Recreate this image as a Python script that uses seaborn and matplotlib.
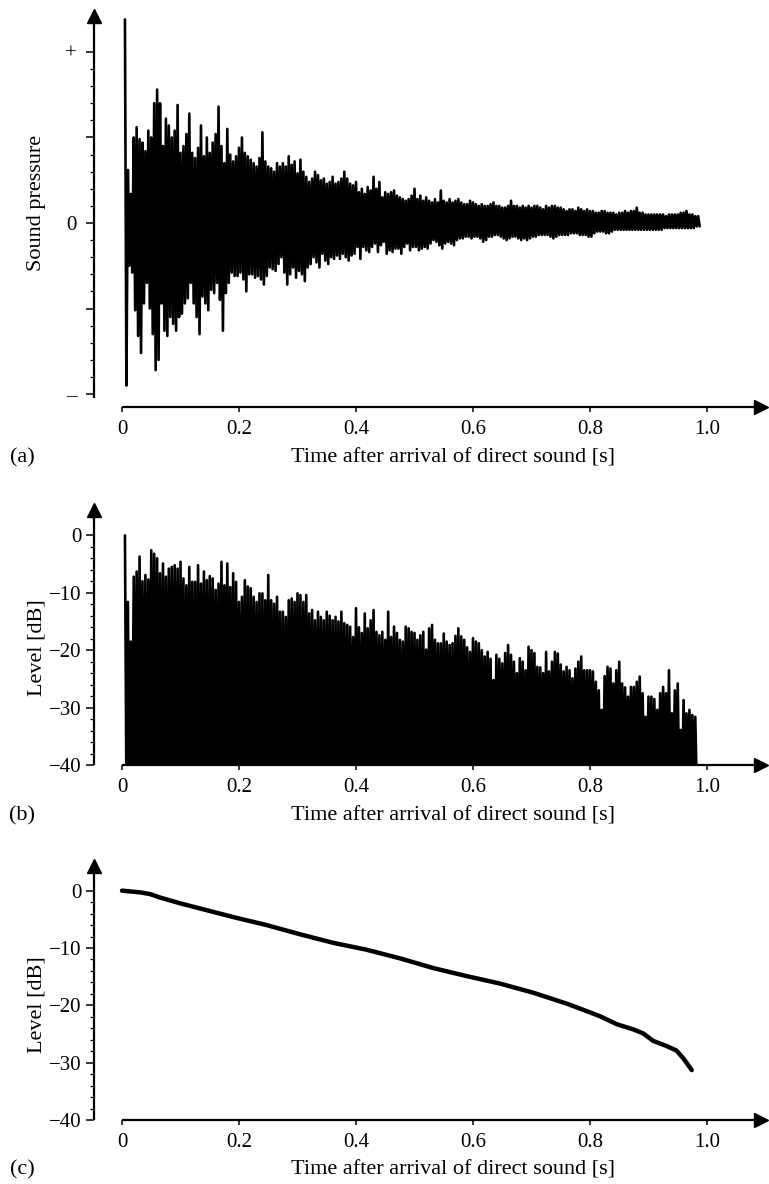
import numpy as np
import pandas as pd
import matplotlib
matplotlib.use("Agg")
import matplotlib.pyplot as plt
from matplotlib.transforms import Affine2D, ScaledTranslation
from matplotlib.ticker import FixedLocator
import seaborn as sns

sns.set_theme(style="ticks")
plt.rcParams["font.family"] = ["Liberation Serif", "DejaVu Serif"]
for key in ("text.color", "axes.labelcolor", "xtick.color", "ytick.color", "axes.edgecolor"):
    plt.rcParams[key] = "black"

# ---------------------------------------------------------------- data
# impulse response sampled every DT seconds starting at T0 (direct sound first)
T0 = 0.005
DT = 0.005

# (a) sound pressure: positive and negative peak per sample slot
pressure_upper = [
    1.19, 0.31, 0.17, 0.50, 0.56, 0.49, 0.47, 0.42, 0.54, 0.50,
    0.70, 0.78, 0.70, 0.45, 0.61, 0.57, 0.50, 0.54, 0.69, 0.41,
    0.45, 0.52, 0.64, 0.41, 0.38, 0.44, 0.57, 0.39, 0.50, 0.41,
    0.47, 0.52, 0.68, 0.45, 0.35, 0.55, 0.40, 0.36, 0.39, 0.44,
    0.50, 0.41, 0.39, 0.37, 0.35, 0.33, 0.38, 0.53, 0.36, 0.33,
    0.32, 0.30, 0.35, 0.33, 0.35, 0.33, 0.39, 0.34, 0.36, 0.29,
    0.37, 0.30, 0.27, 0.24, 0.26, 0.30, 0.28, 0.25, 0.26, 0.23,
    0.24, 0.27, 0.23, 0.24, 0.26, 0.30, 0.26, 0.23, 0.22, 0.24,
    0.18, 0.20, 0.17, 0.21, 0.19, 0.27, 0.20, 0.24, 0.15, 0.18,
    0.17, 0.18, 0.19, 0.16, 0.15, 0.14, 0.13, 0.14, 0.16, 0.20,
    0.14, 0.16, 0.13, 0.15, 0.13, 0.12, 0.14, 0.12, 0.19, 0.13,
    0.12, 0.14, 0.12, 0.13, 0.14, 0.12, 0.11, 0.11, 0.13, 0.12,
    0.11, 0.10, 0.11, 0.10, 0.10, 0.11, 0.12, 0.10, 0.10, 0.09,
    0.09, 0.10, 0.13, 0.10, 0.10, 0.09, 0.10, 0.09, 0.10, 0.09,
    0.10, 0.10, 0.09, 0.08, 0.10, 0.09, 0.10, 0.10, 0.09, 0.09,
    0.08, 0.07, 0.08, 0.08, 0.07, 0.09, 0.08, 0.07, 0.08, 0.07,
    0.07, 0.06, 0.06, 0.07, 0.07, 0.06, 0.06, 0.06, 0.05, 0.06,
    0.06, 0.07, 0.06, 0.07, 0.07, 0.09, 0.06, 0.06, 0.05, 0.05,
    0.05, 0.05, 0.05, 0.05, 0.05, 0.04, 0.05, 0.05, 0.05, 0.05,
    0.06, 0.06, 0.07, 0.05, 0.05, 0.04, 0.04,
]
pressure_lower = [
    -0.95, -0.25, -0.29, -0.51, -0.66, -0.76, -0.47, -0.35, -0.50, -0.65,
    -0.86, -0.80, -0.47, -0.63, -0.66, -0.55, -0.59, -0.63, -0.55, -0.53,
    -0.47, -0.44, -0.35, -0.47, -0.55, -0.65, -0.43, -0.47, -0.51, -0.39,
    -0.41, -0.35, -0.45, -0.63, -0.41, -0.35, -0.29, -0.31, -0.31, -0.29,
    -0.33, -0.40, -0.30, -0.30, -0.32, -0.31, -0.33, -0.36, -0.31, -0.26,
    -0.27, -0.28, -0.24, -0.20, -0.29, -0.36, -0.30, -0.26, -0.32, -0.28,
    -0.30, -0.34, -0.26, -0.24, -0.20, -0.23, -0.26, -0.18, -0.22, -0.24,
    -0.20, -0.21, -0.19, -0.21, -0.18, -0.20, -0.22, -0.19, -0.18, -0.14,
    -0.21, -0.14, -0.16, -0.17, -0.14, -0.12, -0.17, -0.13, -0.11, -0.18,
    -0.16, -0.17, -0.15, -0.15, -0.18, -0.14, -0.12, -0.16, -0.14, -0.14,
    -0.16, -0.15, -0.14, -0.15, -0.12, -0.10, -0.11, -0.13, -0.15, -0.12,
    -0.11, -0.12, -0.13, -0.10, -0.09, -0.09, -0.08, -0.08, -0.09, -0.08,
    -0.08, -0.09, -0.11, -0.10, -0.08, -0.08, -0.07, -0.07, -0.08, -0.09,
    -0.10, -0.09, -0.08, -0.08, -0.09, -0.10, -0.09, -0.10, -0.09, -0.08,
    -0.08, -0.07, -0.07, -0.07, -0.07, -0.08, -0.09, -0.08, -0.07, -0.07,
    -0.07, -0.07, -0.06, -0.06, -0.06, -0.07, -0.07, -0.07, -0.08, -0.08,
    -0.06, -0.05, -0.05, -0.05, -0.06, -0.06, -0.05, -0.04, -0.04, -0.04,
    -0.04, -0.04, -0.04, -0.04, -0.04, -0.04, -0.04, -0.04, -0.04, -0.04,
    -0.04, -0.04, -0.04, -0.04, -0.03, -0.03, -0.03, -0.03, -0.03, -0.03,
    -0.03, -0.03, -0.03, -0.03, -0.03, -0.02, -0.02,
]

# (b) level of each sample slot [dB]
level_peaks = [
    0.0, -11.6, -18.5, -7.2, -6.3, -3.7, -8.0, -6.9, -7.7, -2.6,
    -3.2, -4.0, -6.6, -4.9, -7.2, -5.8, -5.5, -5.2, -5.8, -4.6,
    -7.5, -8.7, -5.5, -8.1, -8.1, -5.2, -8.4, -6.3, -7.8, -7.1,
    -7.5, -9.5, -8.4, -4.6, -8.7, -4.9, -9.0, -6.6, -8.1, -11.6,
    -10.7, -7.8, -8.9, -9.2, -10.7, -11.6, -10.1, -10.1, -11.3, -6.9,
    -11.3, -11.9, -10.7, -13.3, -13.3, -14.2, -11.3, -11.0, -11.6, -10.1,
    -10.4, -11.6, -10.4, -13.6, -13.0, -14.8, -13.3, -14.2, -14.8, -13.3,
    -14.0, -14.8, -14.2, -15.0, -13.3, -15.3, -15.6, -15.9, -17.7, -12.7,
    -16.0, -17.0, -13.6, -16.2, -14.8, -13.0, -16.8, -17.4, -16.8, -18.2,
    -13.3, -17.7, -15.9, -17.0, -18.2, -18.5, -15.9, -16.2, -16.8, -17.0,
    -18.2, -17.4, -16.8, -19.9, -16.2, -15.6, -18.2, -18.8, -18.8, -17.1,
    -18.5, -19.1, -18.8, -17.5, -16.2, -17.6, -18.2, -19.5, -20.3, -17.9,
    -18.5, -18.8, -20.0, -21.1, -20.3, -21.5, -25.2, -20.8, -21.5, -22.3,
    -20.5, -19.1, -20.8, -22.0, -24.0, -21.4, -22.0, -23.5, -19.4, -20.0,
    -20.5, -22.9, -23.0, -24.0, -20.3, -23.7, -22.0, -20.3, -20.6, -22.5,
    -23.7, -22.9, -23.5, -24.9, -23.2, -22.0, -21.1, -23.5, -23.5, -23.5,
    -23.7, -25.5, -27.0, -30.4, -24.5, -22.9, -23.2, -25.8, -23.5, -22.0,
    -25.8, -26.5, -28.1, -26.4, -26.4, -25.5, -24.6, -27.5, -31.6, -28.1,
    -28.1, -28.5, -30.4, -27.5, -26.4, -27.5, -23.5, -31.0, -27.0, -25.8,
    -33.9, -28.7, -31.0, -30.4, -31.3, -31.6,
]
# the level trace dips below the lowest displayed level between samples
LEVEL_FLOOR = -44

# (c) backward-integrated decay curve
decay_time = [0.0, 0.031, 0.048, 0.065, 0.099, 0.133, 0.190, 0.247, 0.304,
              0.361, 0.418, 0.475, 0.532, 0.589, 0.646, 0.703, 0.760, 0.789,
              0.817, 0.846, 0.874, 0.891, 0.908, 0.931, 0.948, 0.960, 0.974]
decay_level = [0.0, -0.3, -0.6, -1.2, -2.2, -3.1, -4.6, -6.0, -7.6,
               -9.1, -10.3, -11.8, -13.5, -14.9, -16.2, -17.8, -19.7, -20.8,
               -21.9, -23.3, -24.2, -24.9, -26.2, -27.1, -27.9, -29.3, -31.3]

x_ticks = [0, 0.2, 0.4, 0.6, 0.8, 1.0]
x_tick_labels = ["0", "0.2", "0.4", "0.6", "0.8", "1.0"]
pressure_ticks = [-1, -0.5, 0, 0.5, 1]
pressure_tick_labels = ["\u2013", "", "0", "", "+"]
level_ticks = [-40, -30, -20, -10, 0]
level_tick_labels = ["\u221240", "\u221230", "\u221220", "\u221210", "0"]

x_title = "Time after arrival of direct sound [s]"

# ---------------------------------------------------------------- layout
W, H, DPI = 769, 1184, 100
FS = 15        # tick labels
FS_TITLE = 16  # axis titles and panel tags
AX_LEFT, AX_RIGHT = 94, 760.5
XMIN, XMAX = -0.0479, 1.0915
PT = 72 / DPI  # points per pixel

fig = plt.figure(figsize=(W / DPI, H / DPI), dpi=DPI)
fig.patch.set_facecolor("white")
PX = Affine2D().scale(1 / W, -1 / H).translate(0, 1) + fig.transFigure


def add_panel(top, bottom):
    return fig.add_axes([AX_LEFT / W, 1 - bottom / H,
                         (AX_RIGHT - AX_LEFT) / W, (bottom - top) / H])


def style_panel(ax, ylim, yticks, ylabels, yminor, ylabel, ylabel_y,
                label_y, tag, bottom_offset=0, ypad=3.5):
    ax.set_xlim(XMIN, XMAX)
    ax.set_ylim(*ylim)
    ax.set_facecolor("none")
    for side in ("top", "right"):
        ax.spines[side].set_visible(False)
    for side in ("left", "bottom"):
        ax.spines[side].set_linewidth(1.6)
        ax.spines[side].set_capstyle("butt")
    ax.spines["bottom"].set_bounds(0, XMAX)
    if bottom_offset:
        ax.spines["bottom"].set_position(("outward", bottom_offset * PT))

    ax.set_xticks(x_ticks, x_tick_labels)
    ax.set_yticks(yticks, ylabels)
    ax.yaxis.set_minor_locator(FixedLocator(yminor))
    ax.tick_params(axis="x", which="major", direction="out", length=5 * PT,
                   width=1.1, pad=6, labelsize=FS)
    ax.tick_params(axis="y", which="major", direction="out", length=8 * PT,
                   width=1.1, pad=ypad, labelsize=FS)
    ax.tick_params(axis="y", which="minor", direction="out", length=4.5 * PT,
                   width=0.9)

    # arrow heads at the ends of both axes
    ax.plot(0, 1, marker="^", ms=10, color="black", transform=ax.transAxes,
            clip_on=False, zorder=5)
    shift = ScaledTranslation(0, -bottom_offset / DPI, fig.dpi_scale_trans)
    ax.plot(1, 0, marker=">", ms=10, color="black",
            transform=ax.transAxes + shift, clip_on=False, zorder=5)

    ax.set_ylabel(ylabel, fontsize=FS_TITLE)
    ax.yaxis.label.set(ha="center", va="center")
    ax.yaxis.set_label_coords(37, ylabel_y, transform=PX)
    ax.set_xlabel(x_title, fontsize=FS_TITLE)
    ax.xaxis.label.set(ha="center", va="center")
    ax.xaxis.set_label_coords(453, label_y, transform=PX)
    fig.text(22, label_y, tag, transform=PX, ha="center", va="center",
             fontsize=FS_TITLE)


def zigzag(times, first, second):
    t = np.asarray(times, dtype=float)
    xs = np.column_stack([t, t + DT / 2]).ravel()
    ys = np.column_stack([np.asarray(first, float),
                          np.asarray(second, float)]).ravel()
    return xs, ys


WAVE_LW = 1.9

# ---------------------------------------------------------------- (a)
ax_a = add_panel(15.5, 398)
t_a = T0 + DT * np.arange(len(pressure_upper))
xa, ya = zigzag(t_a, pressure_upper, pressure_lower)
df_a = pd.DataFrame({"time": xa, "pressure": ya})
sns.lineplot(data=df_a, x="time", y="pressure", sort=False, estimator=None,
             color="black", linewidth=WAVE_LW, ax=ax_a)
minor_a = [v / 10 for v in range(-10, 11) if v % 5 != 0]
style_panel(ax_a, (-1.023, 1.213), pressure_ticks, pressure_tick_labels,
            minor_a, "Sound pressure", 203, 458, "(a)", bottom_offset=9, ypad=7)

# ---------------------------------------------------------------- (b)
ax_b = add_panel(509.5, 765)
t_b = T0 + DT * np.arange(len(level_peaks))
xb, yb = zigzag(t_b, level_peaks, [LEVEL_FLOOR] * len(level_peaks))
df_b = pd.DataFrame({"time": xb, "level": yb})
sns.lineplot(data=df_b, x="time", y="level", sort=False, estimator=None,
             color="black", linewidth=WAVE_LW, ax=ax_b)
minor_db = [v for v in range(-40, 1, 2) if v % 10 != 0]
style_panel(ax_b, (-40, 4.5), level_ticks, level_tick_labels, minor_db,
            "Level [dB]", 648, 816, "(b)")

# ---------------------------------------------------------------- (c)
ax_c = add_panel(866, 1120)
df_c = pd.DataFrame({"time": decay_time, "level": decay_level})
sns.lineplot(data=df_c, x="time", y="level", sort=False, estimator=None,
             color="black", linewidth=3.2, ax=ax_c)
style_panel(ax_c, (-40, 4.3), level_ticks, level_tick_labels, minor_db,
            "Level [dB]", 1005, 1170, "(c)")

fig.savefig("out.png", dpi=DPI, facecolor="white")
